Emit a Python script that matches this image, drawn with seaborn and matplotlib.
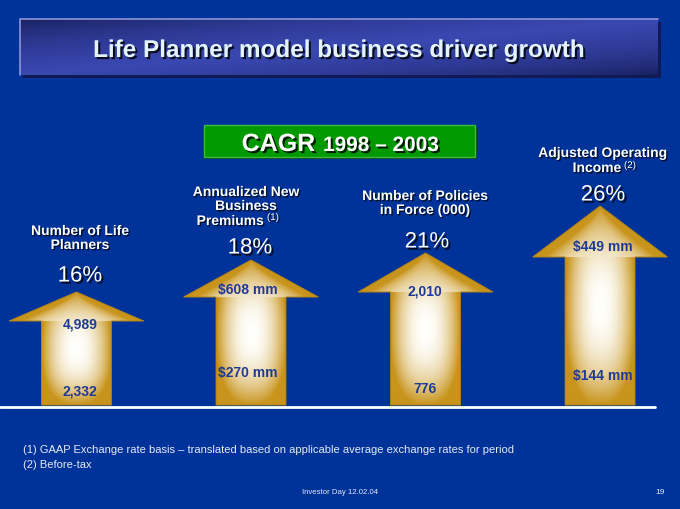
import numpy as np
import pandas as pd
import matplotlib
matplotlib.use("Agg")
import matplotlib.pyplot as plt
import matplotlib.patheffects as pe
from matplotlib.patches import Polygon, Rectangle
import seaborn as sns

# values
metrics = ["Number of Life Planners", "Annualized New Business Premiums",
           "Number of Policies in Force (000)", "Adjusted Operating Income"]
cagr_labels = ["16%", "18%", "21%", "26%"]
values_1998 = ["2,332", "$270 mm", "776", "$144 mm"]
values_2003 = ["4,989", "$608 mm", "2,010", "$449 mm"]
# arrow lengths above the baseline (slide units): top of shaft, tip of head
shaft_len = [84, 108, 113, 148]
tip_len = [113, 145, 152, 199]
footnotes = ["(1) GAAP Exchange rate basis \u2013 translated based on applicable average exchange rates for period",
             "(2) Before-tax"]

BG = "#003399"
GOLD = np.array([200, 148, 28]) / 255
WHITE = np.array([255, 255, 252]) / 255
NAVY = "#1F3A96"

sns.set_theme(style="white")
plt.rcParams['font.family'] = ['Liberation Sans', 'DejaVu Sans']

fig = plt.figure(figsize=(6.8, 5.1), dpi=100)
fig.patch.set_facecolor(BG)

# background axes in slide pixels
bg = fig.add_axes([0, 0, 1, 1])
bg.set_xlim(0, 680)
bg.set_ylim(510, 0)
bg.axis('off')

shadow = [pe.withSimplePatchShadow(offset=(1, -1), shadow_rgbFace='black', alpha=0.7)]
shadow2 = [pe.withSimplePatchShadow(offset=(1.5, -1.5), shadow_rgbFace='black', alpha=0.8)]

# title banner with diagonal shading
gx, gy = np.meshgrid(np.linspace(0, 1, 400), np.linspace(0, 1, 60))
u = 0.5 * (gx + gy)
t = (1 - np.abs(2 * u - 1)) ** 0.6
dark = np.array([22, 30, 90]) / 255
light = np.array([58, 72, 178]) / 255
banner = dark + (light - dark) * t[..., None]
bg.add_patch(Rectangle((23, 23), 638, 56, facecolor='#101a55', edgecolor='none', zorder=0.5))
bg.imshow(banner, extent=(20, 658, 76, 20), aspect='auto', zorder=1)
bg.plot([20, 20, 658], [76, 20, 20], color='#8C96D8', lw=1.2, zorder=2)
bg.text(339, 58, "Life Planner model business driver growth", ha='center', va='baseline',
        fontsize=17.5, fontweight='bold', color='#E4F4FF', path_effects=shadow2, zorder=3)

# CAGR box
bg.add_patch(Rectangle((206, 128), 271, 32, facecolor='#0b3d18', edgecolor='none', zorder=0.5))
bg.add_patch(Rectangle((204, 126), 271, 32, facecolor='#009A00', edgecolor='#40B840', lw=1, zorder=1))
bg.text(315, 152, "CAGR", ha='right', va='baseline', fontsize=18, fontweight='bold',
        color='white', path_effects=shadow2, zorder=3)
bg.text(323, 152, "1998 \u2013 2003", ha='left', va='baseline', fontsize=15, fontweight='bold',
        color='white', path_effects=shadow2, zorder=3)

# baseline
bg.plot([0, 655], [408, 408], color='white', lw=2, zorder=2)

# arrows: shafts from seaborn bars, heads added on top
ax = fig.add_axes([0, 0, 1, 1])
ax.patch.set_alpha(0)
df = pd.DataFrame({"metric": metrics, "shaft": shaft_len})
sns.barplot(data=df, x="metric", y="shaft", color=GOLD, saturation=1, width=0.40,
            linewidth=0, ax=ax, zorder=2)

for i, bar in enumerate(list(ax.patches)):
    x0, w, h = bar.get_x(), bar.get_width(), bar.get_height()
    cx = x0 + w / 2
    hw = w * 1.93 / 2
    tip = tip_len[i]
    verts = [(x0, 0), (x0, h), (cx - hw, h), (cx, tip), (cx + hw, h), (x0 + w, h), (x0 + w, 0)]
    poly = Polygon(verts, closed=True, facecolor='none', edgecolor='#B38416', lw=0.7, zorder=4)
    ax.add_patch(poly)

    # soft glow: white in the middle, gold towards the outline
    X, Y = np.meshgrid(np.linspace(cx - hw, cx + hw, 240), np.linspace(0, tip, 300))
    halfw = np.where(Y <= h, w / 2, 0.9 * hw * (tip - Y) / (tip - h))
    halfw = np.maximum(halfw, 1e-6)
    mid = tip * 0.5
    dx = np.abs(X - cx) / halfw
    dy = np.abs(Y - mid) / mid
    d = (dx ** 2.5 + dy ** 2.5) ** (1 / 2.5)
    tt = 1 - np.clip(d, 0, 1) ** 2.2
    img = GOLD * (1 - tt[..., None]) + WHITE * tt[..., None]
    im = ax.imshow(img, extent=(cx - hw, cx + hw, 0, tip), origin='lower', aspect='auto', zorder=3)
    im.set_clip_path(poly)

ax.set_xlim(-0.438, 3.458)
ax.set_ylim(-104, 406)
ax.axis('off')

# headings above the arrows
lab = dict(ha='center', va='center', fontsize=10, fontweight='bold', color='white',
           path_effects=shadow, zorder=5)
sup = dict(ha='left', va='center', fontsize=7, color='white', path_effects=shadow, zorder=5)
bg.text(80, 232, "Number of Life", **lab)
bg.text(80, 246, "Planners", **lab)
bg.text(246, 193, "Annualized New", **lab)
bg.text(246, 207, "Business", **lab)
bg.text(264, 222, "Premiums", **{**lab, 'ha': 'right'})
bg.text(267, 218, "(1)", **sup)
bg.text(425, 197, "Number of Policies", **lab)
bg.text(425, 211, "in Force (000)", **lab)
bg.text(603, 154, "Adjusted Operating", **lab)
bg.text(621, 169, "Income", **{**lab, 'ha': 'right'})
bg.text(624, 166, "(2)", **sup)

pct_xy = [(80, 277), (250, 249), (427, 243), (603, 196)]
top_xy = [(80, 325), (248, 290), (425, 292), (603, 247)]
bot_xy = [(80, 391), (248, 373), (425, 389), (603, 376)]
for i in range(4):
    bg.text(*pct_xy[i], cagr_labels[i], ha='center', va='center', fontsize=16,
            color='white', path_effects=shadow2, zorder=5)
    fig.text(top_xy[i][0] / 680, 1 - top_xy[i][1] / 510, values_2003[i], ha='center', va='center',
             fontsize=10, fontweight='bold', color=NAVY, zorder=10)
    fig.text(bot_xy[i][0] / 680, 1 - bot_xy[i][1] / 510, values_1998[i], ha='center', va='center',
             fontsize=10, fontweight='bold', color=NAVY, zorder=10)

# footnotes and footer
bg.text(23, 450, footnotes[0], ha='left', va='center', fontsize=8, color='#E6E8F4')
bg.text(23, 465, footnotes[1], ha='left', va='center', fontsize=8, color='#E6E8F4')
bg.text(340, 493, "Investor Day 12.02.04", ha='center', va='center', fontsize=5.6,
        color='#E6E8F4')
bg.text(660, 493, "19", ha='center', va='center', fontsize=6, color='#E6E8F4')

fig.savefig("out.png", dpi=100, facecolor=BG)
